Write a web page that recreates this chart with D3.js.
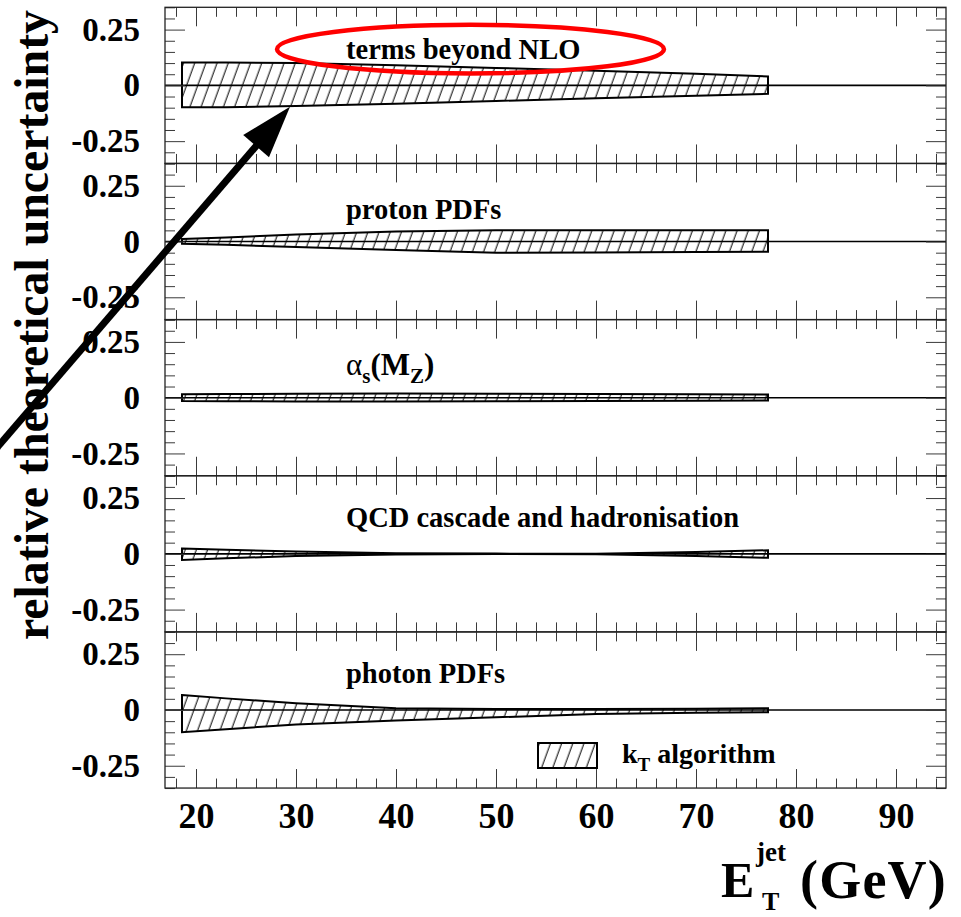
<!DOCTYPE html>
<html>
<head>
<meta charset="utf-8">
<script src="https://cdn.jsdelivr.net/npm/d3@7"></script>
<style>
  html, body { margin: 0; padding: 0; background: #fff; }
  svg { display: block; }
  text { font-family: "Liberation Serif", "Times New Roman", serif; font-weight: bold; fill: #000; }
</style>
</head>
<body>
<svg id="chart" width="961" height="917"></svg>
<script>
// E_T^jet sampling points (GeV) shared by every uncertainty band
const etPoints = [18.6, 23, 30, 40, 50, 60, 70, 77.2];

// relative uncertainty bands: upper and lower edges at each sampling point
const beyondNloUp   = [0.102, 0.102, 0.100, 0.090, 0.078, 0.066, 0.052, 0.040];
const beyondNloDown = [-0.098, -0.098, -0.092, -0.082, -0.070, -0.058, -0.047, -0.038];
const protonPdfUp   = [0.011, 0.018, 0.032, 0.045, 0.050, 0.051, 0.050, 0.050];
const protonPdfDown = [-0.010, -0.015, -0.025, -0.038, -0.050, -0.049, -0.047, -0.046];
const alphaSUp      = [0.015, 0.016, 0.018, 0.019, 0.018, 0.017, 0.015, 0.014];
const alphaSDown    = [-0.015, -0.016, -0.017, -0.017, -0.016, -0.015, -0.014, -0.013];
const cascadeUp     = [0.024, 0.018, 0.010, 0.003, 0.001, 0.000, 0.008, 0.016];
const cascadeDown   = [-0.028, -0.020, -0.010, -0.003, -0.001, -0.002, -0.010, -0.018];
const photonPdfUp   = [0.067, 0.052, 0.030, 0.008, 0.004, 0.004, 0.006, 0.008];
const photonPdfDown = [-0.100, -0.086, -0.065, -0.047, -0.033, -0.018, -0.012, -0.010];

const panelNames = ["terms beyond NLO", "proton PDFs", "alphaS", "QCD cascade and hadronisation", "photon PDFs"];
const xTickValues = [20, 30, 40, 50, 60, 70, 80, 90];
const xTickLabels = ["20", "30", "40", "50", "60", "70", "80", "90"];
const yTickValues = [0.25, 0, -0.25];
const yTickLabels = ["0.25", "0", "-0.25"];
const legendLabel = "algorithm";

// ---- layout ----
const plotLeft = 165, plotRight = 946;
const plotTop = 7.3, panelH = 156.15;
const svg = d3.select("#chart");

const defs = svg.append("defs");
const hatch = defs.append("pattern")
  .attr("id", "hatch")
  .attr("patternUnits", "userSpaceOnUse")
  .attr("width", 10.5).attr("height", 10.5)
  .attr("patternTransform", "rotate(20)");
hatch.append("line")
  .attr("x1", 5).attr("y1", -1).attr("x2", 5).attr("y2", 11.5)
  .attr("stroke", "#000").attr("stroke-width", 1);

const x = d3.scaleLinear().domain([16.9, 95]).range([plotLeft, plotRight]);

const bands = [
  { name: panelNames[0], up: beyondNloUp, down: beyondNloDown },
  { name: panelNames[1], up: protonPdfUp, down: protonPdfDown },
  { name: panelNames[2], up: alphaSUp, down: alphaSDown },
  { name: panelNames[3], up: cascadeUp, down: cascadeDown },
  { name: panelNames[4], up: photonPdfUp, down: photonPdfDown }
];

// caption baselines in each panel (relative uncertainty units)
const labelY = [0.118, 0.101, 0.103, 0.12, 0.121];
const labelX = 35.0;

const minorX = d3.range(18, 95, 2).filter(v => v % 10 !== 0);
const minorY = d3.range(-7, 8).map(k => +(k * 0.05).toFixed(2)).filter(v => !yTickValues.includes(v));

function styleAxis(g) {
  g.select(".domain").remove();
  g.selectAll(".tick line").attr("stroke", "#3a3a3a").attr("stroke-width", 1);
}
function styleLabels(g, size) {
  g.selectAll("text").attr("font-size", size).attr("fill", "#000")
    .style("font-family", "'Liberation Serif', serif").style("font-weight", "bold");
}

const scales = [];
bands.forEach((b, i) => {
  const y0 = plotTop + i * panelH, y1 = plotTop + (i + 1) * panelH;
  const y = d3.scaleLinear().domain([-0.35, 0.35]).range([y1, y0]);
  scales.push(y);
  const g = svg.append("g").attr("class", "panel");

  const rows = etPoints.map((e, k) => ({ e, up: b.up[k], down: b.down[k] }));
  const area = d3.area()
    .x(d => x(d.e))
    .y0(d => y(d.down))
    .y1(d => y(d.up));
  g.append("path")
    .datum(rows)
    .attr("d", area)
    .attr("fill", "url(#hatch)")
    .attr("stroke", "#000")
    .attr("stroke-width", 2)
    .attr("stroke-linejoin", "miter");

  // zero line
  g.append("line")
    .attr("x1", plotLeft).attr("x2", plotRight)
    .attr("y1", y(0)).attr("y2", y(0))
    .attr("stroke", "#000").attr("stroke-width", 1.6);

  // ticks on all four sides, pointing inward
  g.append("g").attr("transform", `translate(0,${y1})`)
    .call(d3.axisBottom(x).tickValues(xTickValues).tickSize(-19).tickPadding(14.5)
      .tickFormat((d, k) => i === bands.length - 1 ? xTickLabels[k] : ""))
    .call(styleAxis)
    .call(ax => styleLabels(ax, 36));
  g.append("g").attr("transform", `translate(0,${y1})`)
    .call(d3.axisBottom(x).tickValues(minorX).tickSize(-9.5).tickFormat(""))
    .call(styleAxis);
  g.append("g").attr("transform", `translate(0,${y0})`)
    .call(d3.axisTop(x).tickValues(xTickValues).tickSize(-19).tickFormat(""))
    .call(styleAxis);
  g.append("g").attr("transform", `translate(0,${y0})`)
    .call(d3.axisTop(x).tickValues(minorX).tickSize(-9.5).tickFormat(""))
    .call(styleAxis);

  g.append("g").attr("transform", `translate(${plotLeft},0)`)
    .call(d3.axisLeft(y).tickValues(yTickValues).tickSize(-20).tickPadding(25)
      .tickFormat((d, k) => yTickLabels[k]))
    .call(styleAxis)
    .call(ax => styleLabels(ax, 33));
  g.append("g").attr("transform", `translate(${plotLeft},0)`)
    .call(d3.axisLeft(y).tickValues(minorY).tickSize(-10).tickFormat(""))
    .call(styleAxis);
  g.append("g").attr("transform", `translate(${plotRight},0)`)
    .call(d3.axisRight(y).tickValues(yTickValues).tickSize(-20).tickFormat(""))
    .call(styleAxis);
  g.append("g").attr("transform", `translate(${plotRight},0)`)
    .call(d3.axisRight(y).tickValues(minorY).tickSize(-10).tickFormat(""))
    .call(styleAxis);

  // frame
  g.append("rect")
    .attr("x", plotLeft).attr("y", y0)
    .attr("width", plotRight - plotLeft).attr("height", panelH)
    .attr("fill", "none").attr("stroke", "#222").attr("stroke-width", 1.3);

  // panel caption
  const t = g.append("text")
    .attr("x", x(labelX)).attr("y", y(labelY[i]));
  if (b.name === "alphaS") {
    t.attr("font-size", 31);
    t.append("tspan").text("α").style("font-weight", "normal");
    t.append("tspan").text("s").attr("font-size", 21).attr("dy", 8);
    t.append("tspan").text("(M").attr("dy", -8);
    t.append("tspan").text("Z").attr("font-size", 21).attr("dy", 8);
    t.append("tspan").text(")").attr("dy", -8);
  } else {
    t.attr("font-size", 28.5).text(b.name);
  }
});

// ---- legend ----
const leg = svg.append("g");
leg.append("rect")
  .attr("x", 538).attr("y", 743).attr("width", 59).attr("height", 25)
  .attr("fill", "url(#hatch)").attr("stroke", "#000").attr("stroke-width", 2);
const lt = leg.append("text").attr("x", 622).attr("y", 763).attr("font-size", 28);
lt.append("tspan").text("k");
lt.append("tspan").text("T").attr("font-size", 19).attr("dy", 8);
lt.append("tspan").text(" " + legendLabel).attr("dy", -8);

// ---- axis titles ----
svg.append("text")
  .attr("transform", "translate(48,325) rotate(-90)")
  .attr("text-anchor", "middle")
  .attr("font-size", 47.8)
  .text("relative theoretical uncertainty");

const xt = svg.append("g");
xt.append("text").attr("x", 721).attr("y", 897).attr("font-size", 50).text("E");
xt.append("text").attr("x", 756).attr("y", 861).attr("font-size", 27).text("jet");
xt.append("text").attr("x", 762).attr("y", 910).attr("font-size", 26).text("T");
xt.append("text").attr("x", 800).attr("y", 898).attr("font-size", 54)
  .attr("letter-spacing", 1.2).text("(GeV)");

// ---- highlight of the top band: ellipse around the caption and an arrow to its edge ----
const yTop = scales[0];
const ellipse = { cx: 47.45, cy: 0.1625, rx: 19.35, ry: 0.109 };
svg.append("ellipse")
  .attr("cx", x(ellipse.cx)).attr("cy", yTop(ellipse.cy))
  .attr("rx", x(ellipse.cx + ellipse.rx) - x(ellipse.cx))
  .attr("ry", yTop(0) - yTop(ellipse.ry))
  .attr("fill", "none").attr("stroke", "#ff0000").attr("stroke-width", 4.5);

const arrowFrom = [-0.6, -1.66], arrowTo = [29.4, -0.0955];
const ax0 = x(arrowFrom[0]), ay0 = yTop(arrowFrom[1]);
const ax1 = x(arrowTo[0]), ay1 = yTop(arrowTo[1]);
const len = Math.hypot(ax1 - ax0, ay1 - ay0);
const ux = (ax1 - ax0) / len, uy = (ay1 - ay0) / len;
const headL = 52, headW = 17;
const bx = ax1 - ux * headL, by = ay1 - uy * headL;
svg.append("line")
  .attr("x1", ax0).attr("y1", ay0).attr("x2", bx + ux * 4).attr("y2", by + uy * 4)
  .attr("stroke", "#000").attr("stroke-width", 7);
svg.append("path")
  .attr("d", `M${ax1},${ay1}L${bx - uy * headW},${by + ux * headW}L${bx + uy * headW},${by - ux * headW}Z`)
  .attr("fill", "#000");
</script>
</body>
</html>
